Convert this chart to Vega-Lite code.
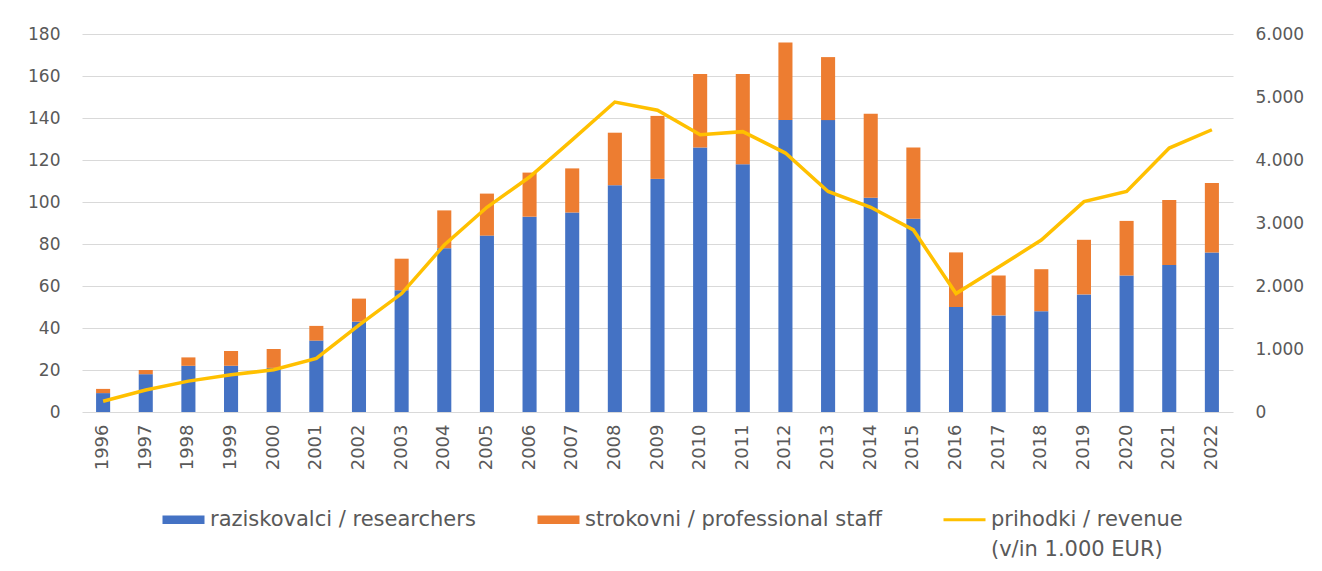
{
  "$schema": "https://vega.github.io/schema/vega-lite/v6.json",
  "autosize": "none",
  "width": 1151,
  "height": 378,
  "padding": {"left": 82, "top": 34, "right": 89, "bottom": 159},
  "background": "white",
  "config": {
    "view": {"stroke": null},
    "font": "DejaVu Sans",
    "axis": {"labelColor": "#595959", "labelFont": "DejaVu Sans", "labelFontSize": 17, "ticks": false, "domain": false, "gridColor": "#D9D9D9", "gridWidth": 1.2},
    "legend": {"labelFont": "DejaVu Sans", "labelFontSize": 21, "labelColor": "#595959", "padding": 0}
  },
  "datasets": {
    "bars": [
      {"year": "1996", "series": "raziskovalci / researchers", "value": 9},
      {"year": "1996", "series": "strokovni / professional staff", "value": 2},
      {"year": "1997", "series": "raziskovalci / researchers", "value": 18},
      {"year": "1997", "series": "strokovni / professional staff", "value": 2},
      {"year": "1998", "series": "raziskovalci / researchers", "value": 22},
      {"year": "1998", "series": "strokovni / professional staff", "value": 4},
      {"year": "1999", "series": "raziskovalci / researchers", "value": 22},
      {"year": "1999", "series": "strokovni / professional staff", "value": 7},
      {"year": "2000", "series": "raziskovalci / researchers", "value": 21},
      {"year": "2000", "series": "strokovni / professional staff", "value": 9},
      {"year": "2001", "series": "raziskovalci / researchers", "value": 34},
      {"year": "2001", "series": "strokovni / professional staff", "value": 7},
      {"year": "2002", "series": "raziskovalci / researchers", "value": 43},
      {"year": "2002", "series": "strokovni / professional staff", "value": 11},
      {"year": "2003", "series": "raziskovalci / researchers", "value": 58},
      {"year": "2003", "series": "strokovni / professional staff", "value": 15},
      {"year": "2004", "series": "raziskovalci / researchers", "value": 78},
      {"year": "2004", "series": "strokovni / professional staff", "value": 18},
      {"year": "2005", "series": "raziskovalci / researchers", "value": 84},
      {"year": "2005", "series": "strokovni / professional staff", "value": 20},
      {"year": "2006", "series": "raziskovalci / researchers", "value": 93},
      {"year": "2006", "series": "strokovni / professional staff", "value": 21},
      {"year": "2007", "series": "raziskovalci / researchers", "value": 95},
      {"year": "2007", "series": "strokovni / professional staff", "value": 21},
      {"year": "2008", "series": "raziskovalci / researchers", "value": 108},
      {"year": "2008", "series": "strokovni / professional staff", "value": 25},
      {"year": "2009", "series": "raziskovalci / researchers", "value": 111},
      {"year": "2009", "series": "strokovni / professional staff", "value": 30},
      {"year": "2010", "series": "raziskovalci / researchers", "value": 126},
      {"year": "2010", "series": "strokovni / professional staff", "value": 35},
      {"year": "2011", "series": "raziskovalci / researchers", "value": 118},
      {"year": "2011", "series": "strokovni / professional staff", "value": 43},
      {"year": "2012", "series": "raziskovalci / researchers", "value": 139},
      {"year": "2012", "series": "strokovni / professional staff", "value": 37},
      {"year": "2013", "series": "raziskovalci / researchers", "value": 139},
      {"year": "2013", "series": "strokovni / professional staff", "value": 30},
      {"year": "2014", "series": "raziskovalci / researchers", "value": 102},
      {"year": "2014", "series": "strokovni / professional staff", "value": 40},
      {"year": "2015", "series": "raziskovalci / researchers", "value": 92},
      {"year": "2015", "series": "strokovni / professional staff", "value": 34},
      {"year": "2016", "series": "raziskovalci / researchers", "value": 50},
      {"year": "2016", "series": "strokovni / professional staff", "value": 26},
      {"year": "2017", "series": "raziskovalci / researchers", "value": 46},
      {"year": "2017", "series": "strokovni / professional staff", "value": 19},
      {"year": "2018", "series": "raziskovalci / researchers", "value": 48},
      {"year": "2018", "series": "strokovni / professional staff", "value": 20},
      {"year": "2019", "series": "raziskovalci / researchers", "value": 56},
      {"year": "2019", "series": "strokovni / professional staff", "value": 26},
      {"year": "2020", "series": "raziskovalci / researchers", "value": 65},
      {"year": "2020", "series": "strokovni / professional staff", "value": 26},
      {"year": "2021", "series": "raziskovalci / researchers", "value": 70},
      {"year": "2021", "series": "strokovni / professional staff", "value": 31},
      {"year": "2022", "series": "raziskovalci / researchers", "value": 76},
      {"year": "2022", "series": "strokovni / professional staff", "value": 33}
    ],
    "rev": [
      {"year": "1996", "revenue": 170},
      {"year": "1997", "revenue": 350},
      {"year": "1998", "revenue": 490},
      {"year": "1999", "revenue": 590},
      {"year": "2000", "revenue": 670},
      {"year": "2001", "revenue": 850},
      {"year": "2002", "revenue": 1380},
      {"year": "2003", "revenue": 1880},
      {"year": "2004", "revenue": 2650},
      {"year": "2005", "revenue": 3250},
      {"year": "2006", "revenue": 3730},
      {"year": "2007", "revenue": 4320},
      {"year": "2008", "revenue": 4920},
      {"year": "2009", "revenue": 4790},
      {"year": "2010", "revenue": 4400},
      {"year": "2011", "revenue": 4450},
      {"year": "2012", "revenue": 4110},
      {"year": "2013", "revenue": 3500},
      {"year": "2014", "revenue": 3250},
      {"year": "2015", "revenue": 2890},
      {"year": "2016", "revenue": 1880},
      {"year": "2017", "revenue": 2300},
      {"year": "2018", "revenue": 2730},
      {"year": "2019", "revenue": 3340},
      {"year": "2020", "revenue": 3500},
      {"year": "2021", "revenue": 4190},
      {"year": "2022", "revenue": 4480}
    ]
  },
  "layer": [
    {
      "data": {"name": "bars"},
      "mark": {"type": "bar"},
      "encoding": {
        "x": {"field": "year", "type": "nominal", "title": null,
              "scale": {"paddingInner": 0.67, "paddingOuter": 0.33},
              "axis": {"labelAngle": -90, "labelPadding": 12, "labelFontSize": 18}},
        "y": {"field": "value", "type": "quantitative", "stack": "zero", "title": null,
              "scale": {"domain": [0, 180]},
              "axis": {"values": [0, 20, 40, 60, 80, 100, 120, 140, 160, 180], "labelPadding": 22, "grid": true}},
        "color": {"field": "series", "type": "nominal", "title": null,
                  "scale": {"domain": ["raziskovalci / researchers", "strokovni / professional staff", "prihodki / revenue"],
                            "range": ["#4472C4", "#ED7D31", "#FFC000"]},
                  "legend": {"orient": "none", "direction": "horizontal", "legendX": 79, "legendY": 463,
                             "symbolSize": 1764, "columnPadding": 55, "labelOffset": 4, "labelLimit": 0,
                             "labelExpr": "datum.label === 'prihodki / revenue' ? ['prihodki / revenue', '(v/in 1.000 EUR)'] : [datum.label, '']",
                             "encode": {
                               "labels": {"update": {"lineHeight": {"value": 30}}},
                               "symbols": {"update": {
                                 "shape": {"signal": "datum.value === 'prihodki / revenue' ? 'M-1,0H1' : 'M-1,-0.2H1V0.2H-1Z'"},
                                 "fill": {"signal": "datum.value === 'prihodki / revenue' ? 'transparent' : (datum.value === 'raziskovalci / researchers' ? '#4472C4' : '#ED7D31')"},
                                 "stroke": {"signal": "datum.value === 'prihodki / revenue' ? '#FFC000' : 'transparent'"},
                                 "strokeWidth": {"value": 3},
                                 "opacity": {"value": 1}
                               }}
                             }}},
        "order": {"field": "series", "sort": "ascending"}
      }
    },
    {
      "data": {"name": "rev"},
      "mark": {"type": "line", "stroke": "#FFC000", "strokeWidth": 3.5},
      "encoding": {
        "x": {"field": "year", "type": "nominal"},
        "y": {"field": "revenue", "type": "quantitative", "title": null,
              "scale": {"domain": [0, 6000]},
              "axis": {"orient": "right", "values": [0, 1000, 2000, 3000, 4000, 5000, 6000], "grid": false, "labelPadding": 22,
                       "labelExpr": "replace(format(datum.value, ','), ',', '.')"}}
      }
    }
  ],
  "resolve": {"scale": {"y": "independent"}}
}
